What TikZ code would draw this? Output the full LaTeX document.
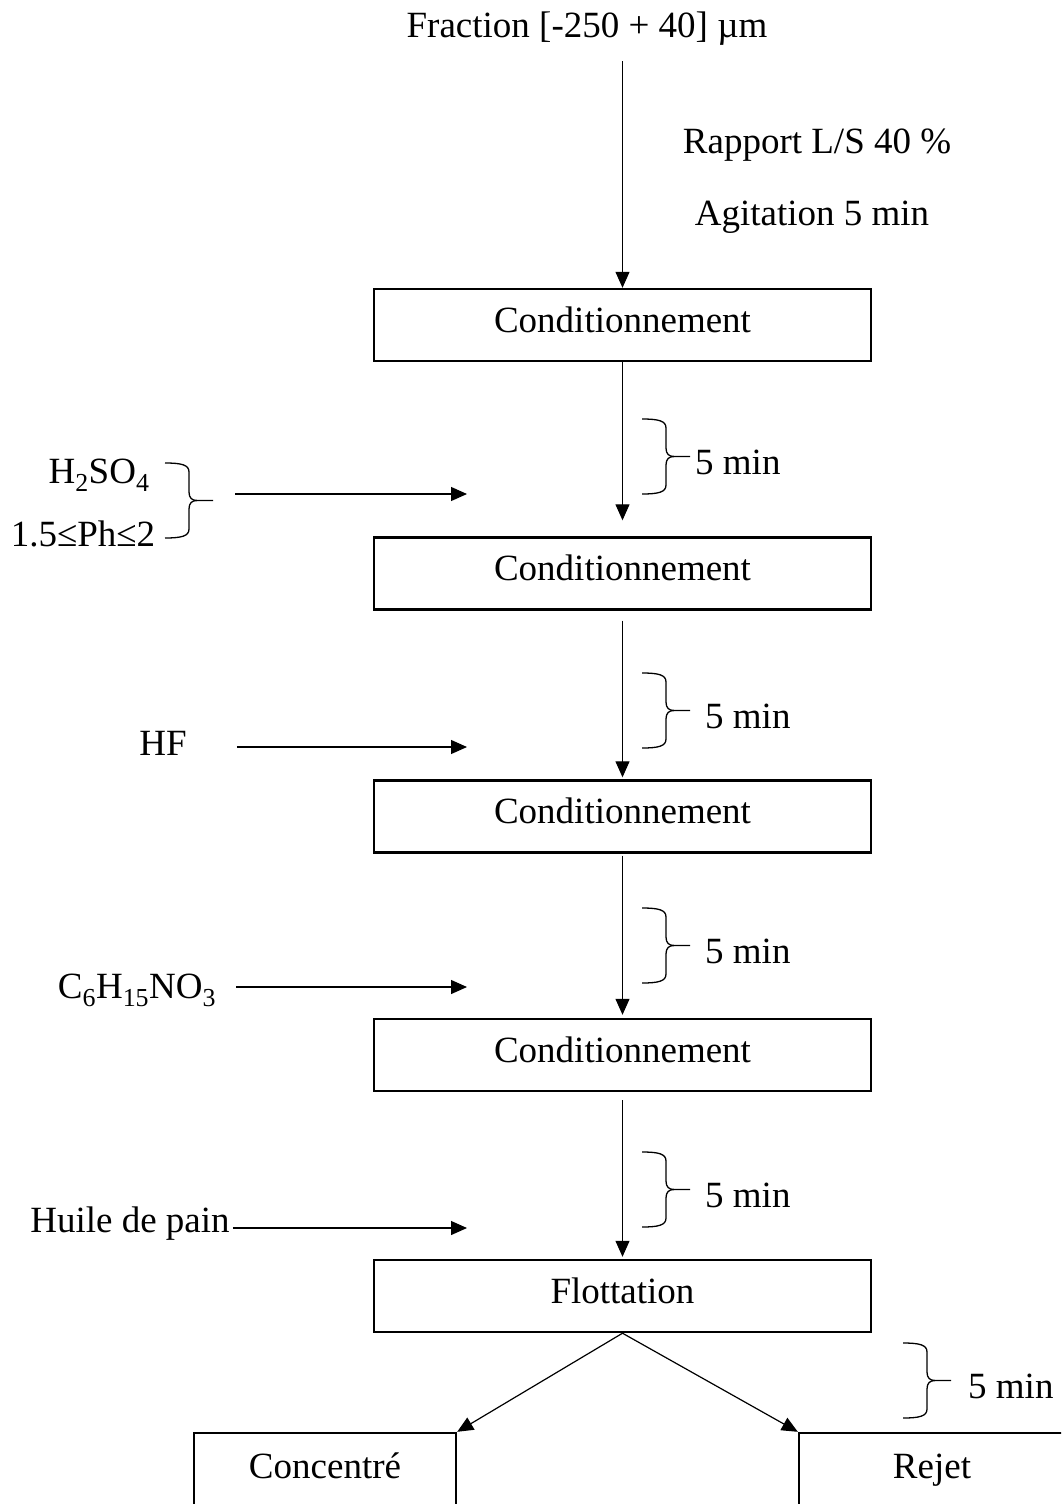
\documentclass[tikz,border=0pt]{standalone}
\usepackage{fontspec}
\setmainfont{Liberation Serif}
\usetikzlibrary{arrows.meta, positioning}
\tikzstyle{process} = [rectangle, minimum width=497pt, minimum height=72pt, text height=20pt, text depth=6pt, text centered, draw=black, line width=2.4pt]
\tikzstyle{result} = [rectangle, minimum width=262pt, minimum height=72pt, text height=24pt, text depth=6pt, text centered, draw=black, line width=2.4pt]
\tikzstyle{txt} = [inner sep=0pt]
\tikzstyle{arrow} = [line width=1.2pt, -{Triangle[length=16pt,width=14pt]}]
\tikzset{curly/.pic={
   \draw[line width=1.3pt] (0,0) .. controls (17,0) and (24,2) .. (24,9) -- (24,29) .. controls (24,35) and (27,37.5) .. (32,37.5) -- (48,37.5);
   \draw[line width=1.3pt] (0,75) .. controls (17,75) and (24,73) .. (24,66) -- (24,46) .. controls (24,40) and (27,37.5) .. (32,37.5);
   \coordinate (-tip) at (48,37.5);
}}

\begin{document}
\begin{tikzpicture}[x=1pt, y=-1pt, font=\fontsize{37}{44}\selectfont]
   \clip (0,0) rectangle (1061,1504);
   \node (c1) [process] at (622.5,325) {Conditionnement};
   \node (c2) [process, below of=c1, node distance=248.5pt] {Conditionnement};
   \node (c3) [process, below of=c2, node distance=243pt] {Conditionnement};
   \node (c4) [process, below of=c3, node distance=238.5pt] {Conditionnement};
   \node (fl) [process, below of=c4, node distance=241pt] {Flottation};
   \node (conc) [result] at (325,1469) {Concentré};
   \node (rej) [result, minimum width=266pt] at (932,1469) {Rejet};

   \node (frac) [txt, anchor=base] at (587,38) {Fraction [-250 + 40] µm};
   \node (rap) [txt, anchor=base] at (817,153) {Rapport L/S 40 \%};
   \node (agi) [txt, anchor=base] at (812,225) {Agitation 5 min};
   \node (acide) [txt, anchor=base] at (99,483) {H\textsubscript{2}SO\textsubscript{4}};
   \node (ph) [txt, anchor=base] at (83,546) {1.5≤Ph≤2};
   \node (hf) [txt, anchor=base] at (163,755) {HF};
   \node (tea) [txt, anchor=base] at (137,998) {C\textsubscript{6}H\textsubscript{15}NO\textsubscript{3}};
   \node (huile) [txt, anchor=base] at (130,1232) {Huile de pain};

   \pic (b0) at (165,463) {curly};
   \pic (b1) at (642,419) {curly};
   \pic (b2) at (642,673) {curly};
   \pic (b3) at (642,908) {curly};
   \pic (b4) at (642,1152) {curly};
   \pic (b5) at (903,1343) {curly};
   \node (t1) [txt, right=5pt of b1-tip, yshift=-6pt] {5 min};
   \node (t2) [txt, right=15pt of b2-tip, yshift=-6pt] {5 min};
   \node (t3) [txt, right=15pt of b3-tip, yshift=-6pt] {5 min};
   \node (t4) [txt, right=15pt of b4-tip, yshift=-6pt] {5 min};
   \node (t5) [txt, right=17pt of b5-tip, yshift=-6pt] {5 min};

   \coordinate (in1) at (467,494);
   \coordinate (in2) at (467,747);
   \coordinate (in3) at (467,987);
   \coordinate (in4) at (467,1228);

   \draw [arrow, shorten <=15pt] (frac.south -| c1.north) -- (c1);
   \draw [arrow, shorten >=16pt] (c1) -- (c2);
   \draw [arrow, shorten <=10pt, shorten >=2pt] (c2) -- (c3);
   \draw [arrow, shorten <=2pt, shorten >=3pt] (c3) -- (c4);
   \draw [arrow, shorten <=8pt, shorten >=2pt] (c4) -- (fl);
   \draw [arrow] (fl.south) -- (conc.north east);
   \draw [arrow] (fl.south) -- (rej.north west);

   \draw [arrow, shorten <=22pt] (b0-tip |- in1) -- (in1);
   \draw [arrow, shorten <=50pt] (hf.east |- in2) -- (in2);
   \draw [arrow, shorten <=20pt] (tea.east |- in3) -- (in3);
   \draw [arrow, shorten <=3pt] (huile.east |- in4) -- (in4);
\end{tikzpicture}
\end{document}
